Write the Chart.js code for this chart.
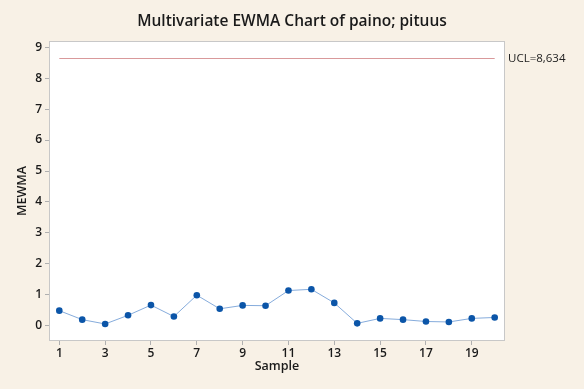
<!DOCTYPE html>
<html>
<head>
<meta charset="utf-8">
<script src="https://cdn.jsdelivr.net/npm/chart.js@4"></script>
<style>
  html, body { margin: 0; padding: 0; background: #f8f1e6; }
  #wrap { width: 584px; height: 389px; }
</style>
</head>
<body>
<div id="wrap"><canvas id="mewmaChart" width="584" height="389"></canvas></div>
<script>
// Chart data
const samples = [1, 2, 3, 4, 5, 6, 7, 8, 9, 10, 11, 12, 13, 14, 15, 16, 17, 18, 19, 20];
const mewma = [0.49, 0.20, 0.06, 0.34, 0.67, 0.30, 0.99, 0.55, 0.66, 0.65,
               1.14, 1.18, 0.74, 0.08, 0.24, 0.20, 0.14, 0.125, 0.24, 0.27];
const ucl = 8.634;
const uclLabel = 'UCL=8,634';
const xTicks = [1, 3, 5, 7, 9, 11, 13, 15, 17, 19];
const yTicks = [0, 1, 2, 3, 4, 5, 6, 7, 8, 9];

const FONT = '"Open Sans", "Noto Sans", sans-serif';

// Background, plot frame and texts
const decorPlugin = {
    id: 'decor',
    beforeDraw(chart) {
        const { ctx, chartArea: a } = chart;
        ctx.save();
        ctx.fillStyle = '#f8f1e6';
        ctx.fillRect(0, 0, chart.width, chart.height);
        ctx.fillStyle = '#ffffff';
        ctx.fillRect(a.left, a.top, a.right - a.left, a.bottom - a.top);
        ctx.strokeStyle = '#c8c8c8';
        ctx.lineWidth = 1;
        ctx.strokeRect(a.left + 0.5, a.top + 0.5, a.right - a.left - 1, a.bottom - a.top - 1);
        ctx.restore();
    },
    afterDraw(chart) {
        const { ctx, chartArea: a, scales } = chart;
        ctx.save();
        ctx.fillStyle = '#1a1a1a';
        ctx.textAlign = 'center';
        ctx.textBaseline = 'middle';
        ctx.font = '600 15.5px ' + FONT;
        ctx.fillText('Multivariate EWMA Chart of paino; pituus', 292, 22);

        ctx.font = '600 12.5px ' + FONT;
        ctx.fillText('Sample', (a.left + a.right) / 2, 366);

        ctx.save();
        ctx.translate(22, (a.top + a.bottom) / 2);
        ctx.rotate(-Math.PI / 2);
        ctx.fillText('MEWMA', 0, 0);
        ctx.restore();

        ctx.font = '11.5px ' + FONT;
        ctx.textAlign = 'left';
        ctx.fillStyle = '#222';
        ctx.fillText(uclLabel, a.right + 3, scales.y.getPixelForValue(ucl));
        ctx.restore();
    }
};

const ctx = document.getElementById('mewmaChart');
new Chart(ctx, {
    type: 'line',
    data: {
        datasets: [{
            label: 'MEWMA',
            data: samples.map((s, i) => ({ x: s, y: mewma[i] })),
            borderColor: '#86acdc',
            borderWidth: 1,
            pointRadius: 3.3,
            pointBackgroundColor: '#0b55a8',
            pointBorderColor: '#0b55a8',
            pointBorderWidth: 0,
            tension: 0
        }, {
            label: 'UCL',
            data: [{ x: samples[0], y: ucl }, { x: samples[samples.length - 1], y: ucl }],
            borderColor: '#d9999b',
            borderWidth: 1.2,
            pointRadius: 0
        }]
    },
    options: {
        responsive: false,
        animation: false,
        layout: { padding: { left: 0, top: 41, right: 79, bottom: 0 } },
        plugins: {
            legend: { display: false },
            tooltip: { enabled: false }
        },
        scales: {
            x: {
                type: 'linear',
                min: 0.55,
                max: 20.45,
                afterBuildTicks(scale) { scale.ticks = xTicks.map(v => ({ value: v })); },
                afterFit(scale) { scale.height = 48; },
                grid: { drawOnChartArea: false, drawTicks: true, tickLength: 4, color: '#b0b0b0' },
                border: { display: false },
                ticks: {
                    color: '#1a1a1a',
                    padding: 1,
                    maxRotation: 0,
                    autoSkip: false,
                    font: { family: FONT, size: 12, weight: '600' }
                }
            },
            y: {
                min: -0.49,
                max: 9.2,
                afterBuildTicks(scale) { scale.ticks = yTicks.map(v => ({ value: v })); },
                afterFit(scale) { scale.width = 49; },
                grid: { drawOnChartArea: false, drawTicks: true, tickLength: 4, color: '#b0b0b0' },
                border: { display: false },
                ticks: {
                    color: '#1a1a1a',
                    padding: 3,
                    font: { family: FONT, size: 12, weight: '600' }
                }
            }
        }
    },
    plugins: [decorPlugin]
});
</script>
</body>
</html>
